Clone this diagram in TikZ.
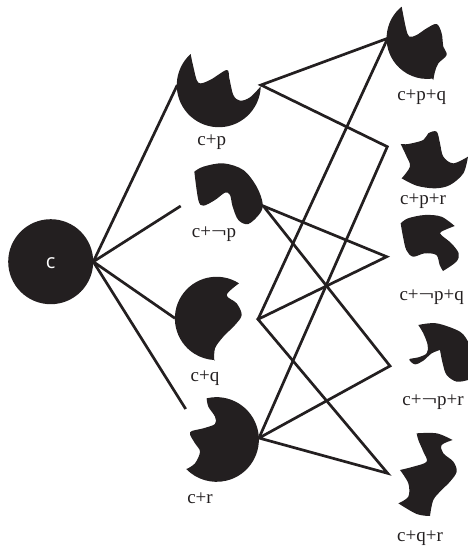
\documentclass[tikz,border=0pt]{standalone}
\usepackage{fontspec}
\setmainfont{Liberation Serif}
\setsansfont{Open Sans}
\definecolor{ink}{HTML}{231F20}
\newcommand{\longnot}{\scalebox{1.45}[1]{¬}}
\tikzset{
  blob/.style={fill=ink,draw=none},
  link/.style={draw=ink,line width=2.7pt,line cap=butt,line join=miter},
  tag/.style={anchor=base,inner sep=0pt,text=ink,font=\fontsize{19}{19}\selectfont},
  upper/.style={shift={(160,0)},scale=1/3},
  lower/.style={shift={(160,270)},scale=1/3},
  edge/.style={smooth,tension=.55}
}
\begin{document}
\begin{tikzpicture}[x=1pt,y=1pt,yscale=-1]
\useasboundingbox (0,0) rectangle (468,547);

% Root disc
\node[circle,fill=ink,minimum size=85pt,inner sep=0pt,text=white,
      font=\fontsize{21}{21}\selectfont\sffamily] (root) at (50.7,261.7) {};
\node[text=white,inner sep=0pt,anchor=base,font=\fontsize{20}{20}\selectfont\sffamily] (rootlabel) at (50.7,268.5) {c};

% Second row
\fill[blob,upper] (92,162) arc[start angle=228,end angle=1.4,radius=126]
  -- plot[edge] coordinates {(303,258) (270,292) (240,302) (220,285) (208,235) (200,210) (150,240) (115,248) (100,200) (92,162)} -- cycle;
\fill[blob,upper] plot[edge] coordinates {(103,515) (130,500) (190,490) (250,510) (290,560) (308,610) (300,640) (265,672) (235,660) (218,620) (210,585) (195,578) (165,600) (130,617) (115,600) (103,515)} -- cycle;
\fill[blob,lower] (237,40) arc[start angle=-57.4,end angle=-268,radius=125]
  -- plot[edge] coordinates {(163,272) (165,235) (190,200) (225,165) (245,135) (230,100) (200,75) (237,40)} -- cycle;
\fill[blob,lower] (140,385) arc[start angle=-103.5,end angle=136,radius=127]
  -- plot[edge] coordinates {(80,597) (105,580) (120,545) (105,520) (90,487) (130,475) (165,462) (165,440) (145,410) (140,385)} -- cycle;

% Third row
\fill[blob,upper] (725,20) arc[start angle=231,end angle=83,radius=122]
  -- plot[edge] coordinates {(820,240) (825,215) (835,190) (860,165) (850,140) (845,100) (830,72) (800,85) (770,105) (748,110) (738,85) (725,20)} -- cycle;
\fill[blob,upper] plot[edge] coordinates {(722,432) (745,432) (790,420) (805,400) (830,395) (840,430) (850,470) (880,490) (924,470)} -- (924,470)
  -- plot[edge] coordinates {(924,470) (910,520) (870,555) (825,565) (770,557) (725,535)} -- plot[edge] coordinates {(725,535) (750,500) (740,470) (722,432)} -- cycle;
\fill[blob,shift={(388,200)},scale=1/3] plot[edge] coordinates {(38,70) (60,55) (110,45) (160,50) (200,78)} -- plot[edge] coordinates {(200,78) (160,95) (160,105) (190,130) (212,160) (205,185) (165,213)} -- plot[edge] coordinates {(165,213) (155,195) (145,165) (110,160) (75,170) (55,150) (45,110) (38,70)} -- cycle;
\fill[blob,lower] plot[edge] coordinates {(775,165) (830,160) (900,185) (924,215)} -- (924,330)
  -- plot[edge] coordinates {(924,330) (890,335) (860,315) (848,280) (840,240)} -- plot[edge] coordinates {(840,240) (815,250) (790,272) (765,283) (748,268) (775,262) (800,250) (803,225) (790,190) (775,165)} -- cycle;
\fill[blob,lower] plot[edge] coordinates {(770,490) (830,490) (878,510)} -- plot[edge] coordinates {(878,510) (845,525) (850,550) (880,575) (890,605) (870,635) (845,660) (820,690) (810,738)} -- plot[edge] coordinates {(810,738) (770,732) (715,700)} -- plot[edge] coordinates {(715,700) (745,680) (745,640) (720,600)} -- plot[edge] coordinates {(720,600) (760,590) (800,575) (790,545) (775,510) (770,490)} -- cycle;

% Attachment points
\coordinate (hubc) at (93.3,261.7);
\coordinate (hubp) at (261,85);
\coordinate (endp) at (177.3,85);
\coordinate (endn) at (180.7,206);
\coordinate (endq) at (175,318.3);
\coordinate (endr) at (185.7,409);
\coordinate (hubn) at (263.3,206);
\coordinate (hubq) at (258,319.3);
\coordinate (hubr) at (259,438);
\coordinate (hubpq) at (387.7,38.3);
\coordinate (jpr) at (387.3,146.7);
\coordinate (jnq) at (386.7,256.7);
\coordinate (jnr) at (390,366);
\coordinate (jqr) at (387.7,473.3);

% Connectors
\draw[link] (hubc) -- (endp);
\draw[link] (hubc) -- (endn);
\draw[link] (hubc) -- (endq);
\draw[link] (hubc) -- (endr);
\draw[link] (hubq) -- (hubpq) -- (hubp) -- (jpr) -- (hubr);
\draw[link] (hubr) -- (jnr) -- (hubn) -- (jnq) -- (hubq) -- (jqr) -- (hubr);

% Labels
\node[tag] (lp) at (211.7,145) {c+p};
\node[tag] (ln) at (214,237) {c+\longnot p};
\node[tag] (lq) at (205,381.7) {c+q};
\node[tag] (lr) at (200,503) {c+r};
\node[tag] (lpq) at (421.7,100) {c+p+q};
\node[tag] (lpr) at (423,204) {c+p+r};
\node[tag] (lnq) at (431.7,300) {c+\longnot p+q};
\node[tag] (lnr) at (433,405) {c+\longnot p+r};
\node[tag] (lqr) at (420,541.7) {c+q+r};
\end{tikzpicture}
\end{document}
